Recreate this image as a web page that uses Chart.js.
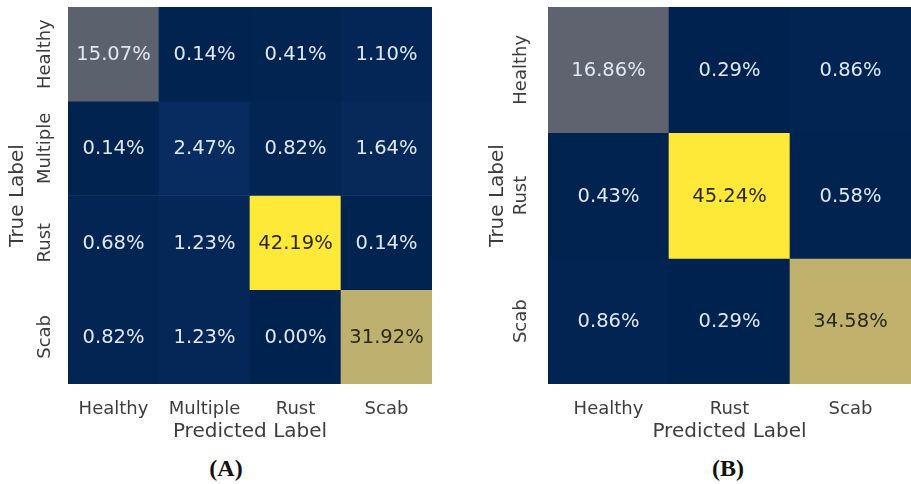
<!DOCTYPE html>
<html>
<head>
<meta charset="utf-8">
<script src="https://cdn.jsdelivr.net/npm/chart.js@4/dist/chart.umd.min.js"></script>
<style>
  body { margin: 0; background: #fff; width: 911px; height: 484px; overflow: hidden; position: relative; }
  .wrap { position: absolute; top: 0; height: 450px; }
  .cap { position: absolute; top: 455px; font-family: "Liberation Serif", serif; font-weight: bold; font-size: 24px; color: #111; transform: translateX(-50%); }
</style>
</head>
<body>
<div class="wrap" style="left:0;width:445px"><canvas id="cmA"></canvas></div>
<div class="wrap" style="left:470px;width:441px"><canvas id="cmB"></canvas></div>
<div class="cap" style="left:226px">(A)</div>
<div class="cap" style="left:728px">(B)</div>

<script>
// four-class model
const labelsA = ["Healthy", "Multiple", "Rust", "Scab"];
const healthyA = [15.07, 0.14, 0.41, 1.10];
const multipleA = [0.14, 2.47, 0.82, 1.64];
const rustA = [0.68, 1.23, 42.19, 0.14];
const scabA = [0.82, 1.23, 0.00, 31.92];

// three-class model
const labelsB = ["Healthy", "Rust", "Scab"];
const healthyB = [16.86, 0.29, 0.86];
const rustB = [0.43, 45.24, 0.58];
const scabB = [0.86, 0.29, 34.58];

const FONT = "'DejaVu Sans', sans-serif";
const INK = "#3d3d3d";

// cividis, sampled at 10 even steps
const cividisStops = ["#00224e", "#123570", "#3b496c", "#575d6d", "#707173",
                      "#8a8779", "#a69d75", "#c4b56c", "#e4cf5b", "#fee838"];

function hexToRgb(h) {
    return [1, 3, 5].map(i => parseInt(h.slice(i, i + 2), 16));
}

function cividis(t) {
    t = Math.max(0, Math.min(1, t));
    const pos = t * (cividisStops.length - 1);
    const i = Math.min(Math.floor(pos), cividisStops.length - 2);
    const f = pos - i;
    const a = hexToRgb(cividisStops[i]), b = hexToRgb(cividisStops[i + 1]);
    const c = a.map((v, k) => Math.round(v + (b[k] - v) * f));
    return "rgb(" + c.join(",") + ")";
}

function textColorFor(rgb) {
    const c = rgb.match(/\d+/g).map(Number).map(v => {
        v /= 255;
        return v <= 0.03928 ? v / 12.92 : Math.pow((v + 0.055) / 1.055, 2.4);
    });
    const lum = 0.2126 * c[0] + 0.7152 * c[1] + 0.0722 * c[2];
    return lum > 0.408 ? "#2a2818" : "#dfe7f3";
}

const cellText = {
    id: "cellText",
    afterDatasetsDraw(chart) {
        const ctx = chart.ctx;
        ctx.save();
        ctx.font = "19.5px " + FONT;
        ctx.textAlign = "center";
        ctx.textBaseline = "middle";
        chart.data.datasets.forEach((ds, r) => {
            chart.getDatasetMeta(r).data.forEach((bar, c) => {
                ctx.fillStyle = textColorFor(ds.backgroundColor[c]);
                ctx.fillText(ds.values[c].toFixed(2) + "%", bar.x, (bar.y + bar.base) / 2 + 1);
            });
        });
        ctx.restore();
    }
};

function drawMatrix(id, labels, rows, opt) {
    const flat = rows.flat();
    const lo = Math.min(...flat), hi = Math.max(...flat);

    // one floating-bar dataset per true-label row, spanning [row, row + 1]
    const datasets = rows.map((row, r) => ({
        label: labels[r],
        data: row.map(() => [r, r + 1]),
        values: row,
        backgroundColor: row.map(v => cividis((v - lo) / (hi - lo))),
        borderWidth: 0,
        grouped: false,
        barPercentage: 1,
        categoryPercentage: 1
    }));

    new Chart(document.getElementById(id), {
        type: "bar",
        data: { labels: labels, datasets: datasets },
        plugins: [cellText],
        options: {
            responsive: true,
            maintainAspectRatio: false,
            animation: false,
            layout: { autoPadding: false, padding: { top: 7, right: opt.right, left: 0, bottom: 0 } },
            plugins: { legend: { display: false }, tooltip: { enabled: false } },
            scales: {
                x: {
                    type: "category",
                    offset: true,
                    grid: { display: false, drawTicks: false },
                    border: { display: false },
                    ticks: { color: INK, font: { family: FONT, size: 18 }, padding: 15, maxRotation: 0, autoSkip: false },
                    title: { display: true, text: "Predicted Label", color: INK, font: { family: FONT, size: 20 }, padding: { top: 0, bottom: 6 } },
                    afterFit: s => { s.height = 66; }
                },
                y: {
                    type: "linear",
                    min: 0,
                    max: rows.length,
                    reverse: true,
                    grid: { display: false, drawTicks: false },
                    border: { display: false },
                    afterBuildTicks: s => { s.ticks = labels.map((_, i) => ({ value: i + 0.5 })); },
                    ticks: {
                        callback: v => labels[Math.floor(v)],
                        color: INK,
                        font: { family: FONT, size: 18 },
                        minRotation: 90,
                        maxRotation: 90,
                        crossAlign: "center",
                        padding: opt.yTickPad,
                        autoSkip: false
                    },
                    title: { display: true, text: "True Label", color: INK, font: { family: FONT, size: 20 }, padding: { top: opt.yTitlePad, bottom: 0 } },
                    afterFit: s => { s.width = opt.yWidth; }
                }
            }
        }
    });
}

drawMatrix("cmA", labelsA, [healthyA, multipleA, rustA, scabA], { right: 13, yWidth: 68, yTickPad: -13, yTitlePad: 6 });
drawMatrix("cmB", labelsB, [healthyB, rustB, scabB], { right: 0, yWidth: 78, yTickPad: -8, yTitlePad: 16 });
</script>
</body>
</html>
